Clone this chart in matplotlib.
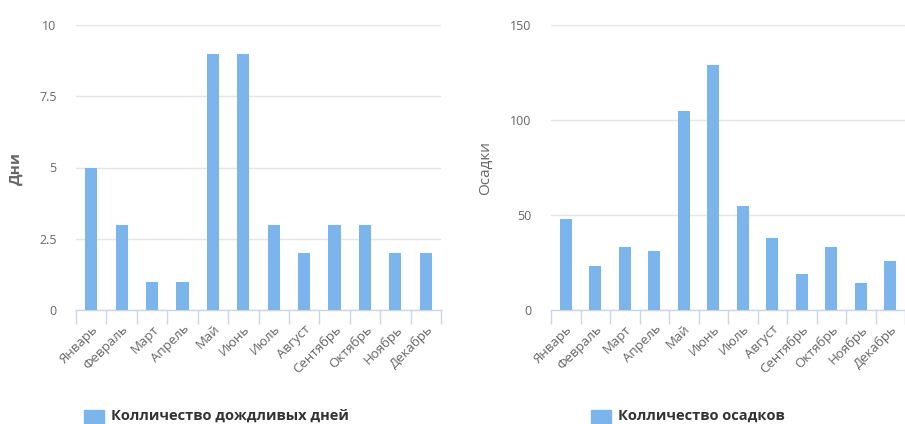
import matplotlib.pyplot as plt
import numpy as np

plt.rcParams['font.family'] = ['Open Sans', 'DejaVu Sans']

# данные
months = ['Январь', 'Февраль', 'Март', 'Апрель', 'Май', 'Июнь',
          'Июль', 'Август', 'Сентябрь', 'Октябрь', 'Ноябрь', 'Декабрь']
rain_days = [5, 3, 1, 1, 9, 9, 3, 2, 3, 3, 2, 2]
precip = [48, 23, 33, 31, 105, 129, 55, 38, 19, 33, 14, 26]

days_ticks = [0, 2.5, 5, 7.5, 10]
days_tick_labels = ['0', '2.5', '5', '7.5', '10']
precip_ticks = [0, 50, 100, 150]

bar_color = '#7cb5ec'
grid_color = '#e6e6e6'
axis_color = '#ccd6eb'
text_color = '#666666'

fig = plt.figure(figsize=(9.05, 4.24), dpi=100)
ax1 = fig.add_axes([76 / 905, 114 / 424, 365 / 905, 285 / 424])
ax2 = fig.add_axes([551 / 905, 114 / 424, 354 / 905, 285 / 424])


def style_axis(ax, values, yticks, ylabels, ymax, ylabel, bold_label, label_x,
               legend_text, legend_x):
    x = np.arange(len(months))
    ax.bar(x, values, width=0.4, color=bar_color, zorder=3)
    ax.set_xlim(-0.5, len(months) - 0.5)
    ax.set_ylim(0, ymax)
    ax.set_yticks(yticks)
    ax.set_yticklabels(ylabels)
    ax.yaxis.grid(True, color=grid_color, linewidth=1, zorder=0)
    ax.tick_params(axis='y', length=0, pad=14, labelsize=9, labelcolor=text_color)
    for s in ['top', 'right', 'left']:
        ax.spines[s].set_visible(False)
    ax.spines['bottom'].set_color(axis_color)
    ax.spines['bottom'].set_linewidth(1)
    ax.set_xticks(x)
    ax.set_xticklabels(months, rotation=45, ha='right', rotation_mode='anchor')
    ax.tick_params(axis='x', length=0, pad=9, labelsize=9.5, labelcolor=text_color)
    ax.set_xticks(np.arange(-0.5, len(months)), minor=True)
    ax.tick_params(axis='x', which='minor', length=10, color=axis_color, width=1)
    ax.set_ylabel(ylabel, color=text_color, fontsize=11,
                  fontweight='bold' if bold_label else 'normal')
    ax.yaxis.set_label_coords(label_x, 0.498)
    # легенда
    fig.patches.append(plt.Rectangle((legend_x / 905, 1 / 424), 20 / 905, 13 / 424,
                                     transform=fig.transFigure, color=bar_color))
    fig.text((legend_x + 27) / 905, 8 / 424, legend_text, fontsize=10.5,
             fontweight='bold', color='#333333', va='center', ha='left')


style_axis(ax1, rain_days, days_ticks, days_tick_labels, 10, 'Дни', True, -0.145,
           'Колличество дождливых дней', 84)
style_axis(ax2, precip, precip_ticks, [str(t) for t in precip_ticks], 150, 'Осадки', False,
           -0.164, 'Колличество осадков', 591)

fig.savefig('out.png', dpi=100)
